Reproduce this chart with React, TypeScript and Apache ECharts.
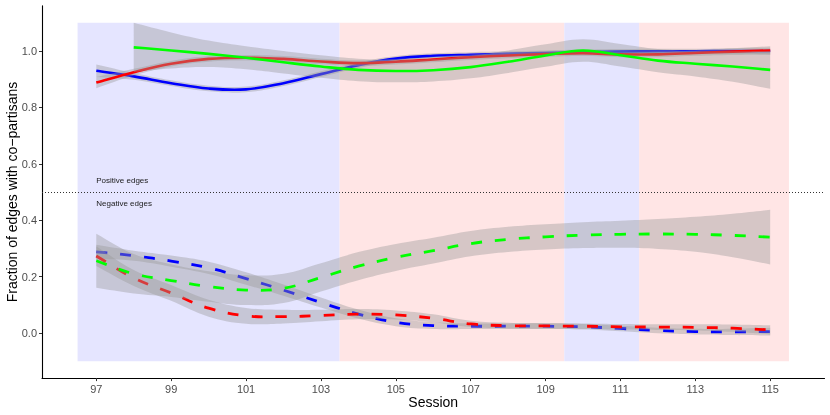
import React, { useEffect, useRef } from "react";
import * as echarts from "echarts";

// ---- data ----
const sessions = [97, 98, 99, 100, 101, 102, 103, 104, 105, 106, 107, 108, 109, 110, 111, 112, 113, 114, 115];
const greenSessions = [98, 99, 100, 101, 102, 103, 104, 105, 106, 107, 108, 109, 110, 111, 112, 113, 114, 115];

// positive edges (solid)
const bluePos = [0.930, 0.910, 0.886, 0.867, 0.864, 0.886, 0.918, 0.950, 0.973, 0.983, 0.987, 0.990, 0.993, 0.996, 0.998, 0.999, 0.999, 1.000, 1.000];
const bluePosSe = [0.022, 0.012, 0.010, 0.010, 0.010, 0.010, 0.010, 0.010, 0.009, 0.009, 0.009, 0.009, 0.009, 0.009, 0.009, 0.009, 0.009, 0.010, 0.012];
const redPos = [0.888, 0.925, 0.955, 0.972, 0.976, 0.972, 0.963, 0.957, 0.962, 0.970, 0.978, 0.984, 0.989, 0.992, 0.988, 0.988, 0.993, 0.998, 1.002];
const redPosSe = [0.020, 0.012, 0.010, 0.010, 0.010, 0.010, 0.010, 0.010, 0.010, 0.010, 0.010, 0.010, 0.010, 0.010, 0.010, 0.010, 0.010, 0.012, 0.015];
const greenPos = [1.013, 1.002, 0.990, 0.976, 0.960, 0.945, 0.933, 0.929, 0.932, 0.943, 0.962, 0.984, 1.002, 0.985, 0.966, 0.955, 0.945, 0.933];
const greenPosSe = [0.087, 0.064, 0.047, 0.041, 0.040, 0.040, 0.040, 0.040, 0.040, 0.040, 0.040, 0.040, 0.040, 0.040, 0.041, 0.045, 0.054, 0.067];

// negative edges (dashed)
const blueNeg = [0.288, 0.274, 0.255, 0.231, 0.193, 0.152, 0.108, 0.067, 0.038, 0.026, 0.024, 0.024, 0.024, 0.022, 0.016, 0.009, 0.005, 0.004, 0.005];
const blueNegSe = [0.025, 0.018, 0.020, 0.022, 0.022, 0.020, 0.018, 0.016, 0.014, 0.012, 0.010, 0.010, 0.010, 0.010, 0.010, 0.010, 0.010, 0.011, 0.014];
const redNeg = [0.273, 0.195, 0.142, 0.088, 0.061, 0.058, 0.062, 0.067, 0.064, 0.052, 0.032, 0.026, 0.025, 0.024, 0.022, 0.021, 0.020, 0.017, 0.011];
const redNegSe = [0.035, 0.028, 0.028, 0.030, 0.028, 0.024, 0.020, 0.018, 0.016, 0.014, 0.011, 0.010, 0.010, 0.010, 0.010, 0.010, 0.011, 0.013, 0.016];
const greenNeg = [0.256, 0.210, 0.186, 0.165, 0.152, 0.158, 0.197, 0.237, 0.268, 0.292, 0.317, 0.332, 0.341, 0.347, 0.350, 0.351, 0.350, 0.346, 0.340];
const greenNegSe = [0.096, 0.070, 0.058, 0.054, 0.053, 0.052, 0.050, 0.050, 0.048, 0.046, 0.045, 0.045, 0.045, 0.046, 0.048, 0.053, 0.062, 0.077, 0.097];

// background periods
const periodStarts = [96.5, 103.5, 109.5, 111.5];
const periodEnds = [103.5, 109.5, 111.5, 115.5];
const periodParty = ["D", "R", "D", "R"];

const xTicks = [97, 99, 101, 103, 105, 107, 109, 111, 113, 115];
const yTicks = [0, 0.2, 0.4, 0.6, 0.8, 1.0];

const FONT = "Liberation Sans, Arial, Helvetica, sans-serif";
const RIBBON = "rgba(153,153,153,0.4)";
const SMOOTH = 0.4;

type Pt = number[];

function ctrl(pts: Pt[], i: number, dir: number): Pt {
  const p = pts[i];
  const n = pts.length;
  if (i === 0) {
    const q = pts[1];
    return [p[0] + (q[0] - p[0]) / 3, p[1] + (q[1] - p[1]) / 3];
  }
  if (i === n - 1) {
    const q = pts[n - 2];
    return [p[0] + (q[0] - p[0]) / 3, p[1] + (q[1] - p[1]) / 3];
  }
  const prev = pts[i - 1];
  const next = pts[i + 1];
  const vx = next[0] - prev[0];
  const vy = next[1] - prev[1];
  const d0 = Math.hypot(p[0] - prev[0], p[1] - prev[1]);
  const d1 = Math.hypot(next[0] - p[0], next[1] - p[1]);
  const r = d1 / (d0 + d1 || 1);
  if (dir > 0) return [p[0] + vx * SMOOTH * r, p[1] + vy * SMOOTH * r];
  return [p[0] - vx * SMOOTH * (1 - r), p[1] - vy * SMOOTH * (1 - r)];
}

function smoothThrough(ctx: any, pts: Pt[], move: boolean) {
  if (!pts.length) return;
  if (move) ctx.moveTo(pts[0][0], pts[0][1]);
  else ctx.lineTo(pts[0][0], pts[0][1]);
  for (let i = 0; i < pts.length - 1; i++) {
    const c1 = ctrl(pts, i, 1);
    const c2 = ctrl(pts, i + 1, -1);
    ctx.bezierCurveTo(c1[0], c1[1], c2[0], c2[1], pts[i + 1][0], pts[i + 1][1]);
  }
}

const SmoothCurve = (echarts.graphic as any).extendShape({
  type: "smoothCurve",
  shape: { points: [] as Pt[] },
  style: { fill: null, stroke: "#000" },
  buildPath(ctx: any, shape: any) {
    smoothThrough(ctx, shape.points, true);
  },
});
const SmoothBand = (echarts.graphic as any).extendShape({
  type: "smoothBand",
  shape: { upper: [] as Pt[], lower: [] as Pt[] },
  buildPath(ctx: any, shape: any) {
    smoothThrough(ctx, shape.upper, true);
    smoothThrough(ctx, shape.lower.slice().reverse(), false);
    ctx.closePath();
  },
});
echarts.graphic.registerShape("smoothCurve", SmoothCurve);
echarts.graphic.registerShape("smoothBand", SmoothBand);

function ribbon(xs: number[], c: number[], se: number[], z: number) {
  return {
    type: "custom",
    data: [[xs[0], c[0]]],
    silent: true,
    z,
    renderItem: (_p: any, api: any) => ({
      type: "smoothBand",
      shape: {
        upper: xs.map((x, i) => api.coord([x, c[i] + se[i]])),
        lower: xs.map((x, i) => api.coord([x, c[i] - se[i]])),
      },
      style: { fill: RIBBON, stroke: null },
    }),
  };
}

function curve(xs: number[], c: number[], color: string, dashed: boolean, z: number) {
  return {
    type: "custom",
    data: [[xs[0], c[0]]],
    silent: true,
    z,
    renderItem: (_p: any, api: any) => ({
      type: "smoothCurve",
      shape: { points: xs.map((x, i) => api.coord([x, c[i]])) },
      style: {
        fill: null,
        stroke: color,
        lineWidth: dashed ? 2.8 : 2.6,
        lineDash: dashed ? [11, 13] : null,
        lineCap: "butt",
      },
    }),
  };
}

export default function App() {
  const ref = useRef<HTMLDivElement>(null);
  useEffect(() => {
    if (!ref.current) return;
    const chart = echarts.init(ref.current, undefined, { renderer: "svg" });
    const groups = [
      { xs: sessions, c: bluePos, se: bluePosSe, color: "#0000FF", dashed: false },
      { xs: sessions, c: redPos, se: redPosSe, color: "#FF0000", dashed: false },
      { xs: greenSessions, c: greenPos, se: greenPosSe, color: "#00FF00", dashed: false },
      { xs: sessions, c: blueNeg, se: blueNegSe, color: "#0000FF", dashed: true },
      { xs: sessions, c: redNeg, se: redNegSe, color: "#FF0000", dashed: true },
      { xs: sessions, c: greenNeg, se: greenNegSe, color: "#00FF00", dashed: true },
    ];
    const series: any[] = [];
    series.push({
      type: "line",
      data: [],
      silent: true,
      z: 1,
      markArea: {
        silent: true,
        data: periodStarts.map((s, i) => [
          {
            xAxis: s,
            yAxis: -0.1,
            itemStyle: { color: periodParty[i] === "D" ? "rgb(229,229,255)" : "rgb(255,229,229)" },
          },
          { xAxis: periodEnds[i], yAxis: 1.1 },
        ]),
      },
      markLine: {
        silent: true,
        symbol: ["none", "none"],
        label: { show: false },
        lineStyle: { type: [1, 2], color: "#333333", width: 1 },
        data: [{ yAxis: 0.5 }],
      },
      markPoint: {
        silent: true,
        symbol: "circle",
        symbolSize: 0,
        data: [
          {
            coord: [97, 0.54],
            label: { show: true, formatter: "Positive edges", position: "right", distance: 0, color: "#1a1a1a", fontSize: 8, fontFamily: FONT },
          },
          {
            coord: [97, 0.46],
            label: { show: true, formatter: "Negative edges", position: "right", distance: 0, color: "#1a1a1a", fontSize: 8, fontFamily: FONT },
          },
        ],
      },
    });
    let z = 3;
    groups.forEach((g) => {
      series.push(ribbon(g.xs, g.c, g.se, z));
      z++;
      series.push(curve(g.xs, g.c, g.color, g.dashed, z));
      z++;
    });

    chart.setOption({
      animation: false,
      grid: { left: 42, right: 5.5, top: 5.9, bottom: 36.9, outerBoundsMode: "none", containLabel: false },
      xAxis: {
        type: "value",
        min: 95.55,
        max: 116.45,
        name: "Session",
        nameLocation: "middle",
        nameGap: 17,
        nameMoveOverlap: false,
        nameTextStyle: { color: "#000", fontSize: 14, fontFamily: FONT, verticalAlign: "top" },
        axisLine: { show: true, onZero: false, lineStyle: { color: "#000", width: 1.1 } },
        axisTick: { show: true, length: 3, lineStyle: { color: "#333" }, customValues: xTicks },
        axisLabel: { color: "#4D4D4D", fontSize: 11, fontFamily: FONT, margin: 5, customValues: xTicks },
        splitLine: { show: false },
      },
      yAxis: {
        type: "value",
        min: -0.16,
        max: 1.16,
        name: "Fraction of edges with co\u2212partisans",
        nameLocation: "middle",
        nameGap: 23,
        nameMoveOverlap: false,
        nameTextStyle: { color: "#000", fontSize: 14, fontFamily: FONT },
        axisLine: { show: true, onZero: false, lineStyle: { color: "#000", width: 1.1 } },
        axisTick: { show: true, length: 3, lineStyle: { color: "#333" }, customValues: yTicks },
        axisLabel: {
          color: "#4D4D4D",
          fontSize: 11,
          fontFamily: FONT,
          margin: 5,
          customValues: yTicks,
          formatter: (v: number) => v.toFixed(1),
        },
        splitLine: { show: false },
      },
      series,
    });
    return () => chart.dispose();
  }, []);
  return <div ref={ref} style={{ position: "fixed", left: 0, top: 0, width: 830, height: 415 }} />;
}
